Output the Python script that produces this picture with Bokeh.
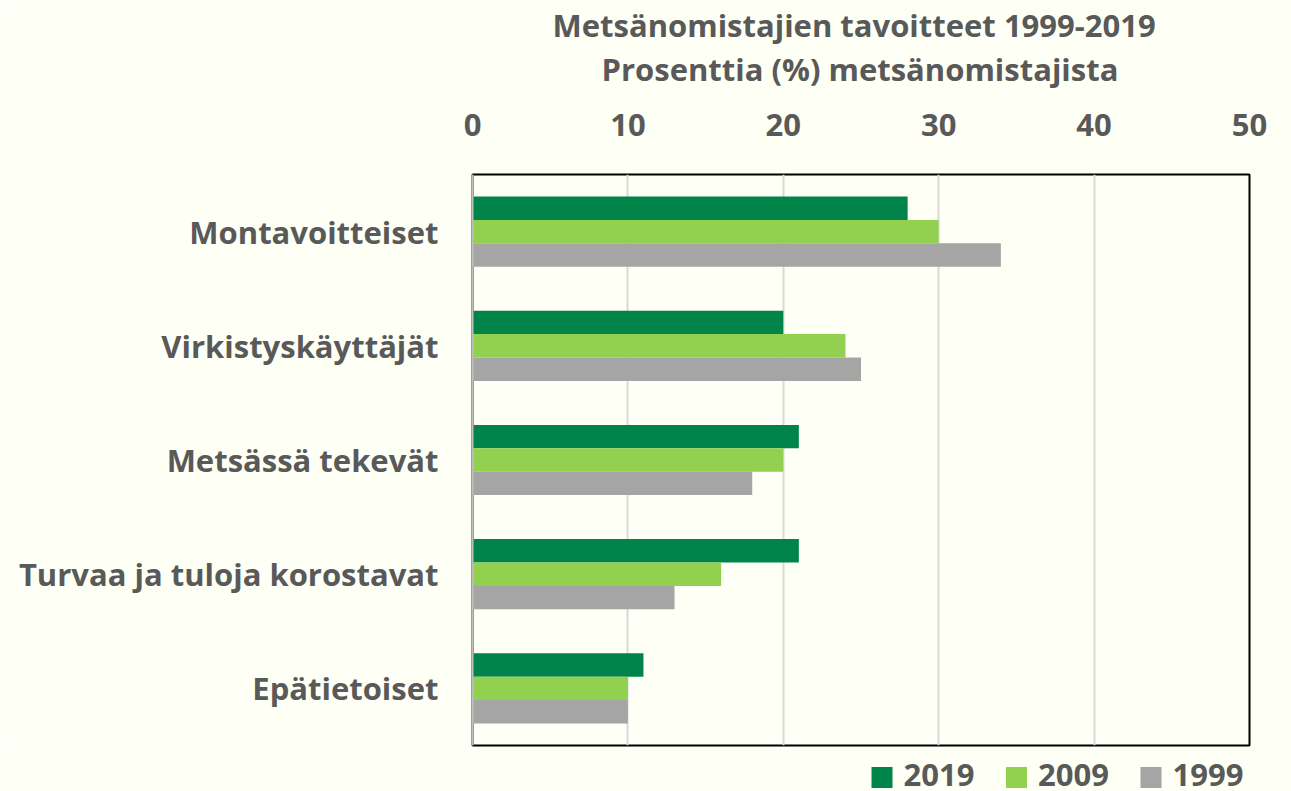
from bokeh.plotting import figure
from bokeh.models import ColumnDataSource, FixedTicker, Title
from bokeh.core.properties import value
from bokeh.layouts import column
from bokeh.embed import file_html
from bokeh.resources import INLINE

categories = ["Montavoitteiset", "Virkistyskäyttäjät", "Metsässä tekevät",
              "Turvaa ja tuloja korostavat", "Epätietoiset"]
series = ["2019", "2009", "1999"]
v2019 = [28, 20, 21, 21, 11]
v2009 = [30, 24, 20, 16, 10]
v1999 = [34, 25, 18, 13, 10]
colors = ["#00844A", "#92D050", "#A5A5A5"]
x_ticks = [0, 10, 20, 30, 40, 50]

TXT = "#595959"
FONT = "Open Sans"
BG = "#FEFFF5"

W, H = 1291, 791
FRAME_L, FRAME_R = 472, 42      # borders around the plot frame
LG_H = 41

n = len(categories)
centers = [n - 0.5 - i for i in range(n)]
bar_h = 0.205
offsets = [bar_h, 0.0, -bar_h]

p = figure(width=W, height=H - LG_H, x_range=(0, 50), y_range=(0, n),
           x_axis_location="above", output_backend="svg", toolbar_location=None,
           min_border_left=FRAME_L, min_border_right=FRAME_R,
           min_border_bottom=5, min_border_top=174)
p.background_fill_color = BG
p.border_fill_color = BG
p.outline_line_color = "black"
p.outline_line_width = 2

for s, vals, c, off in zip(series, [v2019, v2009, v1999], colors, offsets):
    src = ColumnDataSource(dict(y=[cc + off for cc in centers], right=vals))
    p.hbar(y="y", right="right", left=0, height=bar_h, source=src,
           fill_color=c, line_color=None)

# grid
p.xgrid.ticker = FixedTicker(ticks=x_ticks[1:-1])
p.xgrid.grid_line_color = "#D9D9D9"
p.xgrid.grid_line_width = 2
p.ygrid.grid_line_color = None

# x axis (top)
xa = p.xaxis[0]
xa.ticker = FixedTicker(ticks=x_ticks)
xa.axis_line_color = None
xa.major_tick_line_color = None
xa.minor_tick_line_color = None
xa.major_label_text_font = FONT
xa.major_label_text_font_style = "bold"
xa.major_label_text_font_size = "31px"
xa.major_label_text_color = TXT
xa.major_label_standoff = 33

# y axis
ya = p.yaxis[0]
ya.ticker = FixedTicker(ticks=centers)
ya.major_label_overrides = {c: cat for c, cat in zip(centers, categories)}
ya.axis_line_color = "#BFBFBF"
ya.axis_line_width = 2
ya.major_tick_line_color = None
ya.minor_tick_line_color = None
ya.major_label_text_font = FONT
ya.major_label_text_font_style = "bold"
ya.major_label_text_font_size = "31px"
ya.major_label_text_color = TXT
ya.major_label_standoff = 28

# titles (spacer, subtitle, main title)
spacer = Title(text=" ", text_font_size="1px", standoff=18)
t2 = Title(text="Prosenttia (%) metsänomistajista", align="left",
           text_font=FONT, text_font_style="bold", text_font_size="31px",
           text_color=TXT, offset=129, standoff=0)
t1 = Title(text="Metsänomistajien tavoitteet 1999-2019", align="left",
           text_font=FONT, text_font_style="bold", text_font_size="31px",
           text_color=TXT, offset=80, standoff=0)
p.add_layout(spacer, "above")
p.add_layout(t2, "above")
p.add_layout(t1, "above")

# legend strip below the chart; its frame is aligned with the main frame,
# so its x range is expressed in canvas pixels of that frame
lg = figure(width=W, height=LG_H, x_range=(FRAME_L, W - FRAME_R), y_range=(0, LG_H),
            x_axis_location=None, y_axis_location=None, output_backend="svg",
            toolbar_location=None, min_border=0,
            min_border_left=FRAME_L, min_border_right=FRAME_R)
lg.background_fill_color = BG
lg.border_fill_color = BG
lg.outline_line_color = None
lg.xgrid.visible = False
lg.ygrid.visible = False

leg_left, leg_step, box, gap = 871, 134.5, 21, 11
box_y, text_y = 14, 17
box_x = [leg_left + box / 2 + i * leg_step for i in range(len(series))]
lab_x = [leg_left + box + gap + i * leg_step for i in range(len(series))]
lg.rect(x=box_x, y=box_y, width=box, height=box, fill_color=colors, line_color=None)
lg.text(x=lab_x, y=text_y, text=series, text_baseline="middle", text_align="left",
        text_font=value(FONT), text_font_style="bold", text_font_size="31px",
        text_color=TXT)

layout = column(p, lg, spacing=0)
open("out.html", "w").write(file_html(layout, INLINE))
